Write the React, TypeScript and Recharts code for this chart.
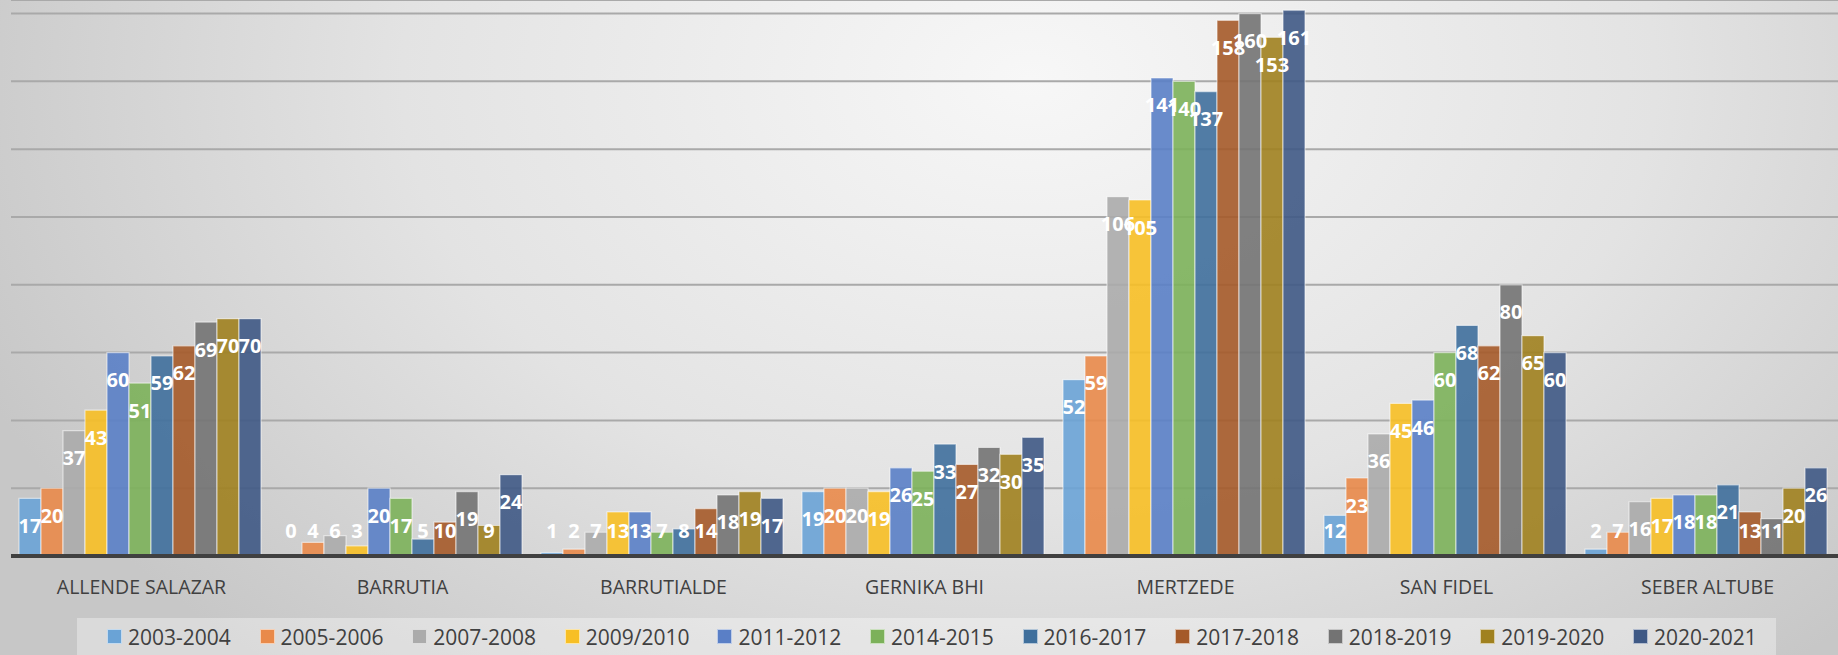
import { Bar, BarChart, CartesianGrid, LabelList, Legend, XAxis, YAxis } from "recharts";

const categories = ["ALLENDE SALAZAR", "BARRUTIA", "BARRUTIALDE", "GERNIKA BHI", "MERTZEDE", "SAN FIDEL", "SEBER ALTUBE"];

const seriesNames = ["2003-2004", "2005-2006", "2007-2008", "2009/2010", "2011-2012", "2014-2015", "2016-2017", "2017-2018", "2018-2019", "2019-2020", "2020-2021"];

const y2003 = [17, 0, 1, 19, 52, 12, 2];
const y2005 = [20, 4, 2, 20, 59, 23, 7];
const y2007 = [37, 6, 7, 20, 106, 36, 16];
const y2009 = [43, 3, 13, 19, 105, 45, 17];
const y2011 = [60, 20, 13, 26, 141, 46, 18];
const y2014 = [51, 17, 7, 25, 140, 60, 18];
const y2016 = [59, 5, 8, 33, 137, 68, 21];
const y2017 = [62, 10, 14, 27, 158, 62, 13];
const y2018 = [69, 19, 18, 32, 160, 80, 11];
const y2019 = [70, 9, 19, 30, 153, 65, 20];
const y2020 = [70, 24, 17, 35, 161, 60, 26];

const seriesValues = [y2003, y2005, y2007, y2009, y2011, y2014, y2016, y2017, y2018, y2019, y2020];

const yTicks = [0, 20, 40, 60, 80, 100, 120, 140, 160];

const colors = ["#6aa3d6", "#e98a4a", "#ababab", "#f7bf25", "#5a7fc6", "#7cb15a", "#3f6f9c", "#a55a29", "#737373", "#a0811f", "#3f5985"];

const data = categories.map((name, i) => {
    const row: any = { name };
    seriesNames.forEach((s, j) => { row[s] = seriesValues[j][i]; });
    return row;
});

const FONT = "'Open Sans', 'Noto Sans', sans-serif";

// zero values still need a (practically invisible) bar so their label is drawn
const zeroBar = (v: any) => (v === 0 ? 0.01 : 0);

const BarLabel = (props: any) => {
    const { x, y, width, height, value } = props;
    const cx = Number(x) + Number(width) / 2;
    const top = Number(y);
    const cy = Math.min(top + 27, top + Number(height) - 26);
    return (
        <text x={cx} y={cy} textAnchor="middle" dominantBaseline="central" fill="#ffffff"
              fontWeight="bold" fontSize={20} fontFamily={FONT}>
            {String(value)}
        </text>
    );
};

const CategoryTick = ({ x, y, payload }: any) => (
    <text x={x} y={y} dy={22} textAnchor="middle" dominantBaseline="central" fill="#404040"
          fontSize={19.5} fontFamily={FONT}>
        {payload.value}
    </text>
);

const LegendBox = ({ payload }: any) => (
    <div style={{
        display: "flex", height: 37, alignItems: "center", paddingLeft: 30, boxSizing: "border-box",
        background: "rgba(255,255,255,0.35)", fontFamily: FONT, fontSize: 21, color: "#404040",
    }}>
        {(payload || []).map((p: any) => (
            <div key={p.value} style={{ width: 152.6, display: "flex", alignItems: "center", flexShrink: 0 }}>
                <span style={{ width: 13, height: 13, background: p.color, border: "1px solid rgba(255,255,255,0.6)", marginRight: 6, display: "inline-block" }} />
                <span style={{ whiteSpace: "nowrap" }}>{p.value}</span>
            </div>
        ))}
    </div>
);

export default function App() {
    return (
        <div style={{
            position: "absolute", left: 0, top: 0, width: 1838, height: 655,
            background: "radial-gradient(ellipse 62% 120% at 56% 12%, #f7f7f7 0%, #e3e3e3 55%, #c7c7c7 100%)",
        }}>
            <BarChart width={1838} height={655} data={data} barCategoryGap={8} barGap={0}
                      margin={{ top: 0, right: 0, left: 11, bottom: 22 }}>
                <CartesianGrid vertical={false} stroke="#a9a9a9" strokeWidth={2} />
                <YAxis hide domain={[0, 164]} ticks={yTicks} allowDataOverflow />
                <XAxis dataKey="name" height={40} tickLine={false} interval={0}
                       axisLine={{ stroke: "#404040", strokeWidth: 4 }} tick={<CategoryTick />} />
                <Legend verticalAlign="bottom" content={<LegendBox />}
                        wrapperStyle={{ left: 77, top: 618, width: 1699, height: 37, bottom: "auto" }} />
                {seriesNames.map((s, j) => (
                    <Bar key={s} dataKey={s} name={s} fill={colors[j]} fillOpacity={0.9} minPointSize={zeroBar}
                         stroke="rgba(255,255,255,0.55)" strokeWidth={1.2} isAnimationActive={false}>
                        <LabelList dataKey={s} content={<BarLabel />} />
                    </Bar>
                ))}
            </BarChart>
        </div>
    );
}
